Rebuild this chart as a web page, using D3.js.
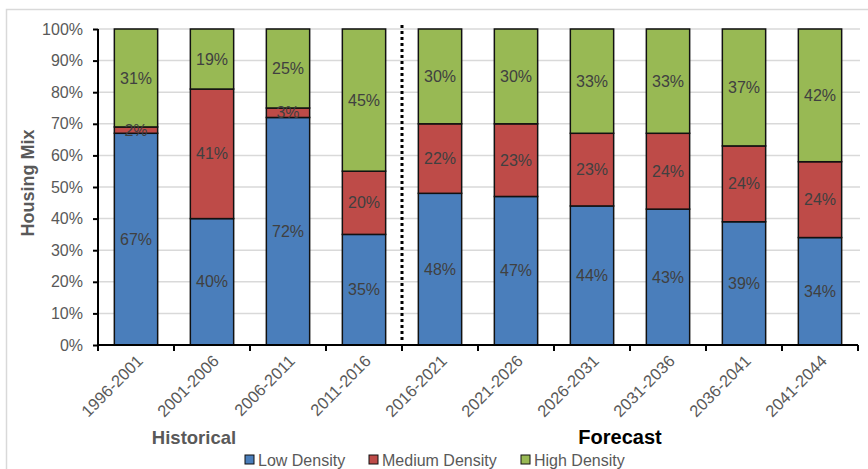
<!DOCTYPE html>
<html><head><meta charset="utf-8">
<script src="https://cdn.jsdelivr.net/npm/d3@7"></script>
<style>body{margin:0;background:#fff;}svg{display:block;font-family:Arial,"Liberation Sans",sans-serif;}</style>
</head><body>
<svg id="chart" width="868" height="469"></svg>
<script>
const categories = ["1996-2001","2001-2006","2006-2011","2011-2016","2016-2021","2021-2026","2026-2031","2031-2036","2036-2041","2041-2044"];
const lowDensity    = [67, 40, 72, 35, 48, 47, 44, 43, 39, 34];
const mediumDensity = [2, 41, 3, 20, 22, 23, 23, 24, 24, 24];
const highDensity   = [31, 19, 25, 45, 30, 30, 33, 33, 37, 42];
const seriesNames = ["Low Density","Medium Density","High Density"];
const yTicks = [0,10,20,30,40,50,60,70,80,90,100];
const colors = ["#4A7EBB","#BE4B48","#98B954"];

const svg = d3.select("#chart");
const M = {left:98, right:858, top:29, bottom:345};

// frame
svg.append("rect").attr("x",6.5).attr("y",9.5).attr("width",900).attr("height",500)
  .attr("fill","none").attr("stroke","#d9d9d9").attr("stroke-width",1.5);

const x = d3.scaleBand().domain(categories).range([M.left,M.right]).paddingInner(0.43).paddingOuter(0.215);
const y = d3.scaleLinear().domain([0,100]).range([M.bottom,M.top]);

// gridlines
svg.append("g").selectAll("line").data(yTicks.filter(d=>d>0)).join("line")
  .attr("x1",M.left).attr("x2",M.right+2).attr("y1",d=>y(d)).attr("y2",d=>y(d))
  .attr("stroke","#d9d9d9").attr("stroke-width",1.5);

const rows = categories.map((c,i)=>({cat:c, low:lowDensity[i], med:mediumDensity[i], high:highDensity[i]}));
const stack = d3.stack().keys(["low","med","high"])(rows);

const g = svg.append("g");
stack.forEach((layer,li)=>{
  g.append("g").selectAll("rect").data(layer).join("rect")
    .attr("x",d=>x(d.data.cat)).attr("width",x.bandwidth())
    .attr("y",d=>y(d[1])).attr("height",d=>y(d[0])-y(d[1]))
    .attr("fill",colors[li]).attr("stroke","#111").attr("stroke-width",1.5);
});
stack.forEach((layer,li)=>{
  g.append("g").selectAll("text").data(layer).join("text")
    .attr("x",d=>x(d.data.cat)+x.bandwidth()/2).attr("y",d=>(y(d[0])+y(d[1]))/2)
    .attr("dy","0.35em").attr("text-anchor","middle")
    .attr("font-size",16).attr("fill","#404040")
    .text(d=>(d[1]-d[0])+"%");
});

// dotted divider
const divX = M.left + (M.right-M.left)/categories.length*4;
svg.append("line").attr("x1",divX).attr("x2",divX).attr("y1",25).attr("y2",343)
  .attr("stroke","#000").attr("stroke-width",3).attr("stroke-dasharray","3,3");

// y axis
const yAxis = svg.append("g").attr("transform",`translate(${M.left},0)`)
  .call(d3.axisLeft(y).tickValues(yTicks).tickFormat(d=>d+"%").tickSize(5).tickPadding(10));
yAxis.select(".domain").attr("stroke","#000").attr("stroke-width",2).attr("d",`M0,${M.top}V${M.bottom}`);
yAxis.selectAll(".tick line").attr("stroke","#000").attr("stroke-width",2);
yAxis.selectAll("text").attr("font-size",16).attr("fill","#595959").attr("font-family","Arial,'Liberation Sans',sans-serif");

// x axis
const xb = d3.scaleLinear().domain([0,categories.length]).range([M.left,M.right]);
svg.append("line").attr("x1",M.left).attr("x2",M.right).attr("y1",M.bottom).attr("y2",M.bottom)
  .attr("stroke","#000").attr("stroke-width",2);
svg.append("g").selectAll("line").data(d3.range(categories.length+1)).join("line")
  .attr("x1",d=>xb(d)).attr("x2",d=>xb(d)).attr("y1",M.bottom).attr("y2",M.bottom+6)
  .attr("stroke","#000").attr("stroke-width",2);
svg.append("g").selectAll("text").data(categories).join("text")
  .attr("transform",d=>`translate(${x(d)+x.bandwidth()/2+4},${M.bottom+13}) rotate(-45)`)
  .attr("text-anchor","end").attr("dy","0.35em")
  .attr("font-size",16.5).attr("fill","#595959").text(d=>d);

// axis title
svg.append("text").attr("transform","translate(34,183) rotate(-90)")
  .attr("text-anchor","middle").attr("font-size",18).attr("font-weight","bold").attr("fill","#595959")
  .text("Housing Mix");

svg.append("text").attr("x",194).attr("y",444).attr("text-anchor","middle")
  .attr("font-size",18.5).attr("font-weight","bold").attr("fill","#595959").text("Historical");
svg.append("text").attr("x",620).attr("y",444).attr("text-anchor","middle")
  .attr("font-size",20).attr("font-weight","bold").attr("fill","#000").text("Forecast");

// legend
const legX = [245,369,521];
const leg = svg.append("g").selectAll("g").data(seriesNames).join("g")
  .attr("transform",(d,i)=>`translate(${legX[i]},455)`);
leg.append("rect").attr("width",9).attr("height",9).attr("fill",(d,i)=>colors[i]).attr("stroke","#111").attr("stroke-width",1);
leg.append("text").attr("x",13).attr("y",5).attr("dy","0.35em").attr("font-size",16).attr("fill","#595959").text(d=>d);
</script>
</body></html>
